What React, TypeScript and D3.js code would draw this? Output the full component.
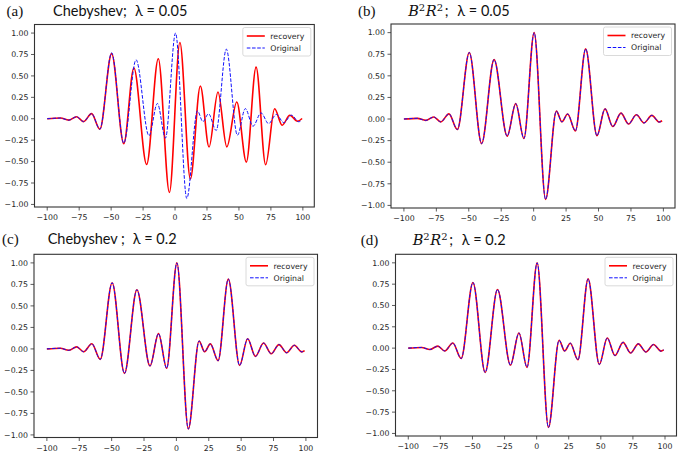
import React from 'react';
import * as d3 from 'd3';

const xTicks = [-100, -75, -50, -25, 0, 25, 50, 75, 100];
const yTicks = [-1, -0.75, -0.5, -0.25, 0, 0.25, 0.5, 0.75, 1];

// original signal, read at its turning points
const originalX = [
  -100, -89.6, -83.2, -77, -71.6, -65.3, -58.8, -49.6, -40.1, -30.5, -20.4, -13.8, -7.5, 0.4, 9.2,
  17.5, 21.8, 26.2, 32.2, 40.1, 48.8, 55, 61, 67.3, 73.2, 79.2, 85.1, 91.1, 96.8, 99,
];
const originalY = [
  0, 0.008, -0.016, 0.024, -0.033, 0.06, -0.122, 0.77, -0.285, 0.688, -0.198, 0.178, -0.225, 1.0, -0.93,
  0.092, -0.033, 0.058, -0.137, 0.812, -0.192, 0.118, -0.087, 0.068, -0.057, 0.05, -0.045, 0.042, -0.035, -0.02,
];

// Chebyshev recovery with lambda = 0.05 (panel a)
const chebyX = [
  -100, -89.6, -83.2, -77, -71.6, -65.3, -58.8, -49.6, -40.1, -32.2, -22.2, -13.1, -4.4, 3.8, 12,
  19.8, 26.6, 33.6, 40.5, 48.3, 55.8, 63.4, 70.9, 77.9, 83.8, 89.8, 95.8, 99.4,
];
const chebyY = [
  0, 0.008, -0.016, 0.024, -0.033, 0.06, -0.122, 0.76, -0.29, 0.592, -0.534, 0.7, -0.86, 0.89, -0.703,
  0.382, -0.33, 0.313, -0.328, 0.196, -0.506, 0.602, -0.537, 0.117, -0.075, 0.04, -0.029, 0.003,
];

const legendLabels = ['recovery', 'Original'];

type Pt = [number, number];
const zip = (xs: number[], ys: number[]): Pt[] => xs.map((x, i) => [x, ys[i]]);

const original = zip(originalX, originalY);
const chebyRecovery = zip(chebyX, chebyY);

const tickFont = '"DejaVu Sans", sans-serif';
const titleFont = 'Lato, "Open Sans", sans-serif';
const labelFont = '"Liberation Serif", serif';
const mathFont = '"DejaVu Serif", "Liberation Serif", serif';

const fmtY = (v: number) => d3.format('.2f')(v).replace('-', '\u2212');
const fmtX = (v: number) => String(v).replace('-', '\u2212');

interface PanelProps {
  left: number;
  right: number;
  top: number;
  bottom: number;
  recovery: Pt[];
}

function Panel({ left, right, top, bottom, recovery }: PanelProps) {
  const x = d3.scaleLinear().domain([-109.95, 108.95]).range([left, right]);
  const y = d3.scaleLinear().domain([-1.03, 1.1]).range([bottom, top]);
  const line = d3
    .line<Pt>()
    .x(d => x(d[0]))
    .y(d => y(d[1]))
    .curve(d3.curveMonotoneX);

  const lg = { x: right - 71.5, y: top + 3, w: 68, h: 28.5 };
  const rows = [lg.y + 8.5, lg.y + 20.5];

  return (
    <g>
      <rect x={left} y={top} width={right - left} height={bottom - top} fill="#fff" />
      <path d={line(recovery) || ''} fill="none" stroke="#ff0000" strokeWidth={1.6} strokeLinejoin="round" />
      <path d={line(original) || ''} fill="none" stroke="#1010ff" strokeWidth={1} strokeDasharray="3.6,1.6" />

      {/* axes */}
      <g stroke="#333" strokeWidth={0.8}>
        {xTicks.map(t => (
          <line key={t} x1={x(t)} x2={x(t)} y1={bottom} y2={bottom + 3.5} />
        ))}
        {yTicks.map(t => (
          <line key={t} x1={left - 3.5} x2={left} y1={y(t)} y2={y(t)} />
        ))}
      </g>
      <g fontFamily={tickFont} fontSize={7.8} fill="#262626">
        {xTicks.map(t => (
          <text key={t} x={x(t)} y={bottom + 13} textAnchor="middle">
            {fmtX(t)}
          </text>
        ))}
        {yTicks.map(t => (
          <text key={t} x={left - 6} y={y(t)} dy="0.35em" textAnchor="end">
            {fmtY(t)}
          </text>
        ))}
      </g>
      <rect x={left} y={top} width={right - left} height={bottom - top} fill="none" stroke="#333" strokeWidth={1.1} />

      {/* legend */}
      <rect x={lg.x} y={lg.y} width={lg.w} height={lg.h} rx={2} fill="#fff" fillOpacity={0.8} stroke="#d0d0d0" strokeWidth={0.8} />
      <line x1={lg.x + 4} x2={lg.x + 22} y1={rows[0]} y2={rows[0]} stroke="#ff0000" strokeWidth={1.6} />
      <line x1={lg.x + 4} x2={lg.x + 22} y1={rows[1]} y2={rows[1]} stroke="#1010ff" strokeWidth={1} strokeDasharray="3.6,1.6" />
      {legendLabels.map((l, i) => (
        <text key={l} x={lg.x + 27.5} y={rows[i]} dy="0.35em" fontFamily={tickFont} fontSize={7.8} fill="#262626">
          {l}
        </text>
      ))}
    </g>
  );
}

function B2R2({ x, y }: { x: number; y: number }) {
  return (
    <text y={y} fontSize={14.5} fill="#111">
      <tspan x={x} fontFamily={mathFont} fontStyle="italic">B</tspan>
      <tspan x={x + 10.5} dy={-5} fontFamily={mathFont} fontSize={10}>2</tspan>
      <tspan x={x + 17.5} dy={5} fontFamily={mathFont} fontStyle="italic">R</tspan>
      <tspan x={x + 28.5} dy={-5} fontFamily={mathFont} fontSize={10}>2</tspan>
      <tspan x={x + 36.5} dy={5} fontFamily={titleFont}>;</tspan>
    </text>
  );
}

export default function App() {
  return (
    <div style={{ position: 'absolute', left: 0, top: 0 }}>
      <svg width={678} height={455} style={{ display: 'block', background: '#fff' }}>
        <Panel left={34.5} right={314.3} top={24.5} bottom={207} recovery={chebyRecovery} />
        <Panel left={391} right={675} top={24} bottom={208} recovery={original} />
        <Panel left={34} right={317.5} top={254.3} bottom={437.5} recovery={original} />
        <Panel left={395.5} right={676.5} top={254.3} bottom={436} recovery={original} />

        {/* titles */}
        <g fill="#111" fontSize={14.5}>
          <text x={6.5} y={16} fontFamily={labelFont} fontSize={15}>(a)</text>
          <text x={53} y={16} fontFamily={titleFont}>Chebyshev;</text>
          <text x={135} y={16} fontFamily={titleFont}>λ = 0.05</text>

          <text x={358} y={16} fontFamily={labelFont} fontSize={15}>(b)</text>
          <text x={457.3} y={16} fontFamily={titleFont}>λ = 0.05</text>

          <text x={2} y={244} fontFamily={labelFont} fontSize={15}>(c)</text>
          <text x={47.7} y={244} fontFamily={titleFont}>Chebyshev ;</text>
          <text x={132.7} y={244} fontFamily={titleFont}>λ = 0.2</text>

          <text x={360.7} y={245} fontFamily={labelFont} fontSize={15}>(d)</text>
          <text x={461.7} y={245} fontFamily={titleFont}>λ = 0.2</text>
        </g>
        <B2R2 x={408.3} y={16} />
        <B2R2 x={412.7} y={245} />
      </svg>
    </div>
  );
}
